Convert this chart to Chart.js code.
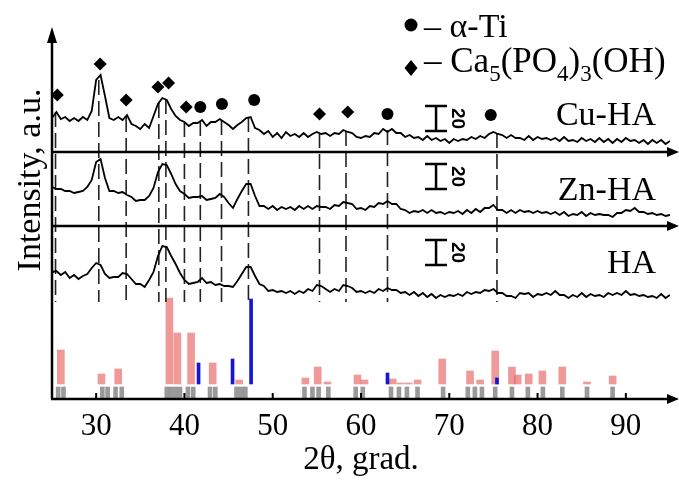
<!DOCTYPE html>
<html>
<head>
<meta charset="utf-8">
<script src="https://cdn.jsdelivr.net/npm/chart.js@4.4.1/dist/chart.umd.min.js"></script>
<style>
  html, body { margin: 0; padding: 0; background: #fff; }
  #wrap { width: 679px; height: 480px; }
</style>
</head>
<body>
<div id="wrap"><canvas id="xrd"></canvas></div>
<script>
// XRD patterns: HA, Zn-HA, Cu-HA coatings + reference sticks

// 2theta sampling of the measured patterns
const twoTheta = [
    25, 25.5, 26, 26.5, 27, 27.5, 28, 28.5, 29, 29.5,
    30, 30.5, 31, 31.5, 32, 32.5, 33, 33.5, 34, 34.5,
    35, 35.5, 36, 36.5, 37, 37.5, 38, 38.5, 39, 39.5,
    40, 40.5, 41, 41.5, 42, 42.5, 43, 43.5, 44, 44.5,
    45, 45.5, 46, 46.5, 47, 47.5, 48, 48.5, 49, 49.5,
    50, 50.5, 51, 51.5, 52, 52.5, 53, 53.5, 54, 54.5,
    55, 55.5, 56, 56.5, 57, 57.5, 58, 58.5, 59, 59.5,
    60, 60.5, 61, 61.5, 62, 62.5, 63, 63.5, 64, 64.5,
    65, 65.5, 66, 66.5, 67, 67.5, 68, 68.5, 69, 69.5,
    70, 70.5, 71, 71.5, 72, 72.5, 73, 73.5, 74, 74.5,
    75, 75.5, 76, 76.5, 77, 77.5, 78, 78.5, 79, 79.5,
    80, 80.5, 81, 81.5, 82, 82.5, 83, 83.5, 84, 84.5,
    85, 85.5, 86, 86.5, 87, 87.5, 88, 88.5, 89, 89.5,
    90, 90.5, 91, 91.5, 92, 92.5, 93, 93.5, 94, 94.5,
    95
];

// intensities (stacked, a.u.)
const cuHA = [
    281, 287, 280, 282, 278, 281, 278, 282, 279, 288,
    319, 324, 303, 281, 279, 282, 279, 284, 275, 273,
    270, 275, 271, 283, 295, 301, 299, 290, 283, 279,
    277, 273, 276, 276, 279, 273, 277, 277, 280, 277,
    274, 270, 274, 277, 281, 282, 271, 269, 265, 268,
    262, 266, 261, 267, 263, 265, 262, 266, 262, 265,
    267, 265, 266, 263, 266, 265, 269, 267, 266, 262,
    261, 263, 262, 266, 265, 270, 267, 270, 266, 266,
    262, 264, 261, 262, 259, 263, 259, 261, 258, 260,
    256, 260, 258, 260, 259, 262, 260, 263, 261, 265,
    267, 265, 264, 261, 264, 261, 261, 259, 263, 259,
    262, 260, 261, 259, 261, 258, 262, 258, 259, 257,
    261, 258, 260, 257, 261, 257, 260, 256, 260, 257,
    261, 258, 259, 256, 259, 255, 259, 256, 259, 255,
    258
];
const znHA = [
    212, 210, 210, 208, 208, 206, 207, 208, 212, 219,
    237, 240, 221, 208, 208, 206, 207, 204, 202, 198,
    199, 199, 203, 211, 227, 235, 234, 225, 215, 208,
    205, 201, 202, 202, 203, 199, 200, 201, 205, 202,
    196, 191, 200, 208, 215, 215, 203, 193, 193, 190,
    193, 189, 192, 190, 192, 189, 193, 190, 193, 190,
    193, 192, 192, 190, 194, 193, 197, 196, 195, 190,
    191, 189, 193, 192, 196, 195, 198, 195, 195, 190,
    189, 186, 188, 187, 189, 186, 189, 186, 187, 185,
    187, 186, 188, 185, 189, 186, 190, 187, 191, 191,
    194, 189, 189, 186, 189, 186, 189, 187, 188, 186,
    188, 186, 187, 185, 187, 184, 187, 183, 185, 184,
    187, 183, 186, 184, 185, 184, 184, 182, 186, 186,
    189, 188, 191, 187, 187, 185, 186, 184, 185, 183,
    184
];
const pureHA = [
    127, 128, 124, 127, 121, 124, 120, 123, 125, 131,
    136, 134, 125, 121, 122, 122, 126, 125, 120, 115,
    115, 112, 119, 127, 143, 153, 152, 143, 135, 126,
    119, 115, 116, 117, 121, 116, 117, 114, 115, 113,
    113, 112, 118, 125, 132, 132, 123, 115, 113, 108,
    109, 107, 108, 106, 108, 105, 108, 106, 110, 108,
    114, 113, 110, 107, 110, 108, 114, 113, 111, 107,
    108, 106, 108, 106, 110, 108, 111, 109, 109, 106,
    107, 104, 107, 103, 106, 102, 105, 101, 104, 102,
    104, 103, 105, 103, 107, 105, 107, 106, 109, 108,
    110, 106, 106, 103, 103, 101, 106, 105, 106, 102,
    105, 104, 106, 104, 108, 104, 104, 101, 104, 102,
    106, 102, 105, 103, 104, 102, 106, 104, 106, 104,
    108, 104, 105, 103, 104, 102, 103, 101, 105, 101,
    104
];

// zero lines of the upper two patterns
const zeroLevels = [247, 173];

// phase identification
const hapPeaks = [25.6, 30.45, 33.4, 37.0, 38.2, 40.2, 55.3, 58.5];
const hapMarkY = [304, 335, 299, 312, 316, 292, 285, 287];
const tiPeaks = [41.8, 44.25, 47.9, 63.0, 74.7];
const tiMarkY = [292, 295, 299, 285, 284];

// reference lines through the peaks
const refPos = [25.4, 30.3, 33.4, 37.1, 37.9, 40.0, 41.8, 44.2, 47.25, 55.3, 58.3, 63.0, 75.4];
const refTop = [287, 319, 282, 296, 300, 277, 278, 279, 282, 266, 268, 269, 266];
const refBottom = 97;

// card sticks: hydroxyapatite (red), alpha-Ti (blue), other (grey)
const stickBase = 15;
const hapStickPos = [26.0, 30.6, 32.5, 38.3, 39.2, 40.75, 43.2, 46.2, 53.7, 55.1, 56.2, 59.6, 60.4,
    63.6, 64.5, 65.4, 66.4, 69.2, 72.35, 73.5, 75.2, 77.1, 77.75, 79.0, 80.55, 82.8, 85.6, 88.5];
const hapStickTop = [49, 25, 30, 101, 66, 66, 36, 19, 21, 32, 17, 24, 19,
    20, 16, 16, 19, 40, 28, 19, 48, 32, 24, 25, 28, 32, 17, 23];
const tiStickPos = [41.6, 45.45, 47.55, 63.0, 75.4];
const tiStickTop = [36, 40, 100, 26, 21];
const greyStickPos = [25.7, 26.3, 30.7, 31.3, 32.2, 32.9, 38.0, 38.5, 39.0, 39.5, 40.4, 41.0,
    42.9, 43.5, 45.9, 46.4, 46.9, 53.6, 54.5, 55.2, 56.3, 59.4, 60.2, 63.4, 64.3, 65.2, 66.4,
    69.3, 72.1, 72.9, 73.7, 75.2, 77.1, 78.9, 80.6, 82.8, 85.6, 88.5];
const greyStickRange = [1, 12];

const xTicks = [30, 40, 50, 60, 70, 80, 90];
const sampleNames = ['Cu-HA', 'Zn-HA', 'HA'];

// scale bars (20 counts)
const barAt = 68.5;
const barRanges = [[268, 293], [210, 235], [134, 159]];

const serif = 'Liberation Serif';

function trace(values) {
    return {
        type: 'line',
        data: twoTheta.map((t, i) => ({ x: t, y: values[i] })),
        borderColor: '#000',
        borderWidth: 1.8,
        pointRadius: 0,
        tension: 0
    };
}

function refLineData() {
    const pts = [];
    refPos.forEach((p, i) => {
        pts.push({ x: p, y: refTop[i] }, { x: p, y: refBottom }, { x: p, y: null });
    });
    return pts;
}

const decor = {
    id: 'decor',
    afterDatasetsDraw(chart) {
        const { ctx, chartArea: a, scales: { x, y } } = chart;
        const W = chart.width;
        ctx.save();
        ctx.fillStyle = '#000';
        ctx.strokeStyle = '#000';

        // axes
        ctx.lineWidth = 2.5;
        ctx.beginPath();
        ctx.moveTo(a.left, a.bottom);
        ctx.lineTo(a.left, a.top + 12);
        ctx.moveTo(a.left - 1, a.bottom);
        ctx.lineTo(W - 10, a.bottom);
        ctx.stroke();
        ctx.beginPath();
        ctx.moveTo(a.left, a.top - 1);
        ctx.lineTo(a.left - 5, a.top + 15);
        ctx.lineTo(a.left + 5, a.top + 15);
        ctx.closePath();
        ctx.fill();
        [a.bottom, ...zeroLevels.map(v => y.getPixelForValue(v))].forEach(py => {
            ctx.beginPath();
            ctx.moveTo(W, py);
            ctx.lineTo(W - 12, py - 5);
            ctx.lineTo(W - 12, py + 5);
            ctx.closePath();
            ctx.fill();
        });

        // inner ticks
        ctx.lineWidth = 2;
        xTicks.forEach(v => {
            const px = x.getPixelForValue(v);
            ctx.beginPath();
            ctx.moveTo(px, a.bottom);
            ctx.lineTo(px, a.bottom - 6);
            ctx.stroke();
        });

        // y title
        ctx.save();
        ctx.translate(31, 180);
        ctx.rotate(-Math.PI / 2);
        ctx.font = '34px "' + serif + '"';
        ctx.textAlign = 'center';
        ctx.textBaseline = 'middle';
        ctx.fillText('Intensity, a.u.', 0, 0);
        ctx.restore();

        // phase legend
        ctx.beginPath();
        ctx.arc(411, 25, 6.5, 0, Math.PI * 2);
        ctx.fill();
        ctx.beginPath();
        ctx.moveTo(411, 60);
        ctx.lineTo(417.5, 68);
        ctx.lineTo(411, 76);
        ctx.lineTo(404.5, 68);
        ctx.closePath();
        ctx.fill();
        ctx.textAlign = 'left';
        ctx.textBaseline = 'alphabetic';
        ctx.font = '34px "' + serif + '"';
        ctx.fillText('\u2013 \u03b1-Ti', 424, 37);
        const parts = [['\u2013 Ca', 0], ['5', 1], ['(PO', 0], ['4', 1], [')', 0], ['3', 1], ['(OH)', 0]];
        let tx = 424;
        parts.forEach(([s, sub]) => {
            ctx.font = (sub ? '23px "' : '35px "') + serif + '"';
            ctx.fillText(s, tx, sub ? 81 : 72);
            tx += ctx.measureText(s).width;
        });

        // sample names
        ctx.textAlign = 'right';
        ctx.font = '34px "' + serif + '"';
        [125, 200, 273].forEach((py, i) => ctx.fillText(sampleNames[i], 656, py));

        // scale bars
        const bx = x.getPixelForValue(barAt);
        ctx.lineWidth = 2.5;
        barRanges.forEach(([lo, hi]) => {
            const y0 = y.getPixelForValue(lo);
            const y1 = y.getPixelForValue(hi);
            ctx.beginPath();
            ctx.moveTo(bx - 11, y1); ctx.lineTo(bx + 11, y1);
            ctx.moveTo(bx, y1); ctx.lineTo(bx, y0);
            ctx.moveTo(bx - 11, y0); ctx.lineTo(bx + 11, y0);
            ctx.stroke();
            ctx.save();
            ctx.translate(bx + 21, (y0 + y1) / 2);
            ctx.rotate(Math.PI / 2);
            ctx.font = '600 19px "Liberation Sans"';
            ctx.textAlign = 'center';
            ctx.textBaseline = 'middle';
            ctx.fillText('20', 0, 0);
            ctx.restore();
        });
        ctx.restore();
    }
};

new Chart(document.getElementById('xrd'), {
    type: 'line',
    data: {
        datasets: [
            {
                type: 'line', showLine: false, pointStyle: 'rectRot', pointRadius: 6.5,
                pointBackgroundColor: '#000', pointBorderWidth: 0,
                data: hapPeaks.map((p, i) => ({ x: p, y: hapMarkY[i] }))
            },
            {
                type: 'line', showLine: false, pointStyle: 'circle', pointRadius: 6,
                pointBackgroundColor: '#000', pointBorderWidth: 0,
                data: tiPeaks.map((p, i) => ({ x: p, y: tiMarkY[i] }))
            },
            trace(cuHA),
            trace(znHA),
            trace(pureHA),
            ...zeroLevels.map(v => ({
                type: 'line', borderColor: '#000', borderWidth: 2.5, pointRadius: 0,
                data: [{ x: 25, y: v }, { x: 95, y: v }]
            })),
            {
                type: 'line', borderColor: '#222', borderWidth: 1.6, borderDash: [15, 6],
                pointRadius: 0, spanGaps: false, data: refLineData()
            },
            {
                type: 'bar', grouped: false, barThickness: 3, backgroundColor: '#1515d8',
                data: tiStickPos.map((p, i) => ({ x: p, y: [stickBase, tiStickTop[i]] }))
            },
            {
                type: 'bar', grouped: false, barThickness: 7, backgroundColor: 'rgba(232, 104, 104, 0.68)',
                data: hapStickPos.map((p, i) => ({ x: p, y: [stickBase, hapStickTop[i]] }))
            },
            {
                type: 'bar', grouped: false, barThickness: 4, backgroundColor: 'rgba(120, 120, 120, 0.75)',
                data: greyStickPos.map(p => ({ x: p, y: greyStickRange }))
            }
        ]
    },
    options: {
        responsive: true,
        maintainAspectRatio: false,
        animation: false,
        layout: { padding: { left: 52, top: 28, right: 9, bottom: 0 } },
        plugins: {
            legend: { display: false },
            tooltip: { enabled: false }
        },
        scales: {
            x: {
                type: 'linear',
                min: 25,
                max: 95,
                offset: false,
                grid: { display: false, drawTicks: false },
                border: { display: false },
                afterBuildTicks: s => { s.ticks = xTicks.map(v => ({ value: v })); },
                afterFit: s => { s.height = 81; },
                ticks: {
                    color: '#000',
                    padding: 12,
                    maxRotation: 0,
                    autoSkip: false,
                    font: { family: serif, size: 31, lineHeight: 1 }
                },
                title: {
                    display: true,
                    text: '2\u03b8, grad.',
                    color: '#000',
                    font: { family: serif, size: 33, lineHeight: 1 },
                    padding: { top: 2, bottom: 3 }
                }
            },
            y: { display: false, min: 0, max: 371 }
        }
    },
    plugins: [decor]
});
</script>
</body>
</html>
